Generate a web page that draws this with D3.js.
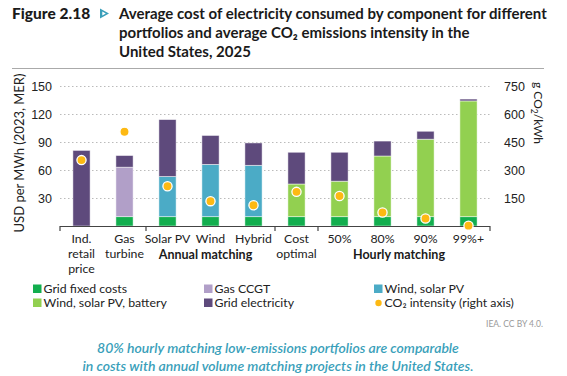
<!DOCTYPE html>
<html>
<head>
<meta charset="utf-8">
<script src="https://cdn.jsdelivr.net/npm/d3@7"></script>
<style>
  body { margin: 0; background: #fff; }
  svg { font-family: Lato, "Open Sans", sans-serif; }
</style>
</head>
<body>
<svg id="chart" width="567" height="376"></svg>
<script>
"use strict";

const categories = ["Ind. retail price", "Gas turbine", "Solar PV", "Wind", "Hybrid",
    "Cost optimal", "50%", "80%", "90%", "99%+"];
const categoryLines = [["Ind.", "retail", "price"], ["Gas", "turbine"], ["Solar PV"], ["Wind"], ["Hybrid"],
    ["Cost", "optimal"], ["50%"], ["80%"], ["90%"], ["99%+"]];

const gridFixed = [0, 10, 10, 10, 10, 10, 10, 10, 10, 10];
const gasCCGT = [0, 53, 0, 0, 0, 0, 0, 0, 0, 0];
const windSolar = [0, 0, 43, 56, 55, 0, 0, 0, 0, 0];
const windSolarBattery = [0, 0, 0, 0, 0, 35, 38, 65, 83, 124];
const gridElectricity = [81, 12.5, 61, 31, 24, 34, 31, 16, 8.5, 2];
const co2Intensity = [353, 505, 213, 133, 111, 183, 161, 72, 40, 2];

const leftTicks = [30, 60, 90, 120, 150];
const rightTicks = [150, 300, 450, 600, 750];

const series = [
    { key: "fixed", name: "Grid fixed costs", color: "#12AE4E", values: gridFixed },
    { key: "ccgt", name: "Gas CCGT", color: "#B19FC8", values: gasCCGT },
    { key: "ws", name: "Wind, solar PV", color: "#4BABC6", values: windSolar },
    { key: "wsb", name: "Wind, solar PV, battery", color: "#92D050", values: windSolarBattery },
    { key: "grid", name: "Grid electricity", color: "#5E4A7C", values: gridElectricity }
];

const svg = d3.select("#chart");

// title
const title = svg.append("g");
title.append("text")
    .attr("x", 12).attr("y", 18.5)
    .style("font-size", "15.5px").style("font-weight", "900").attr("fill", "#1a1a1a")
    .text("Figure 2.18");
title.append("path")
    .attr("d", "M100,8.5 L109,13.5 L100,18.5 Z M102.3,11.5 L102.3,15.5 L105.8,13.5 Z")
    .attr("fill", "#3A9FBA").attr("fill-rule", "evenodd");
const titleLines = ["Average cost of electricity consumed by component for different",
    "portfolios and average CO\u2082 emissions intensity in the", "United States, 2025"];
titleLines.forEach((t, i) => {
    title.append("text")
        .attr("x", 119).attr("y", 18.5 + i * 19.3)
        .style("font-size", "15px").style("font-weight", "700").attr("fill", "#1a1a1a")
        .text(t);
});
svg.append("line")
    .attr("x1", 12).attr("x2", 544).attr("y1", 68.5).attr("y2", 68.5)
    .attr("stroke", "#aaa").attr("stroke-width", 1);

// scales
const xScale = d3.scaleBand().domain(categories).range([60, 490]).paddingInner(0.6).paddingOuter(0.3);
const yScale = d3.scaleLinear().domain([0, 150]).range([226, 86]);
const yRight = d3.scaleLinear().domain([0, 750]).range([226, 86]);

// gridlines
svg.append("g")
    .attr("transform", "translate(60,0)")
    .call(d3.axisLeft(yScale).tickValues(leftTicks).tickSize(-430).tickFormat(""))
    .call(g => g.select(".domain").remove())
    .call(g => g.selectAll("line").attr("stroke", "#bbb").attr("stroke-dasharray", "1.5,2.5"));

// left axis labels
svg.append("g")
    .attr("transform", "translate(52,0)")
    .call(d3.axisLeft(yScale).tickValues(leftTicks).tickSize(0))
    .call(g => g.select(".domain").remove())
    .call(g => g.selectAll("text").attr("fill", "#222").style("font-size", "12.5px").attr("dx", 3));

// right axis labels
svg.append("g")
    .attr("transform", "translate(501,0)")
    .call(d3.axisRight(yRight).tickValues(rightTicks).tickSize(0))
    .call(g => g.select(".domain").remove())
    .call(g => g.selectAll("text").attr("fill", "#222").style("font-size", "12.5px"));

svg.append("text")
    .attr("transform", "translate(24,153) rotate(-90)")
    .attr("text-anchor", "middle")
    .style("font-size", "13px").attr("fill", "#222")
    .text("USD per MWh (2023, MER)");

const rl = svg.append("text")
    .attr("transform", "translate(534,82) rotate(90)")
    .style("font-size", "12px").attr("fill", "#222");
rl.append("tspan").text("g CO");
rl.append("tspan").attr("dy", 3).style("font-size", "8.5px").text("2");
rl.append("tspan").attr("dy", -3).text("/kWh");

// stacked bars
const table = categories.map((c, i) => {
    const row = { category: c };
    series.forEach(s => { row[s.key] = s.values[i]; });
    return row;
});
const stacked = d3.stack().keys(series.map(s => s.key))(table);

svg.append("g").selectAll("g")
    .data(stacked).enter().append("g")
    .attr("fill", (d, i) => series[i].color)
    .selectAll("rect")
    .data(d => d.filter(p => p[1] - p[0] > 0)).enter().append("rect")
    .attr("x", d => xScale(d.data.category))
    .attr("y", d => yScale(d[1]))
    .attr("height", d => yScale(d[0]) - yScale(d[1]))
    .attr("width", xScale.bandwidth())
    .attr("stroke", "#fff").attr("stroke-opacity", 0.6).attr("stroke-width", 0.8);

// x axis
svg.append("line")
    .attr("x1", 60).attr("x2", 490).attr("y1", 226.5).attr("y2", 226.5)
    .attr("stroke", "#444").attr("stroke-width", 1.2);
const groupEdges = [0, 2, 5, 6, 10];
svg.append("g").selectAll("line")
    .data(groupEdges).enter().append("line")
    .attr("x1", d => 60 + d * xScale.step()).attr("x2", d => 60 + d * xScale.step())
    .attr("y1", 226).attr("y2", 231)
    .attr("stroke", "#444").attr("stroke-width", 1.2);

// category labels
const catG = svg.append("g").attr("text-anchor", "middle").style("font-size", "12.3px").attr("fill", "#222");
categories.forEach((c, i) => {
    categoryLines[i].forEach((line, j) => {
        catG.append("text")
            .attr("x", xScale(c) + xScale.bandwidth() / 2)
            .attr("y", 242.5 + j * 15)
            .text(line);
    });
});

const groupLabels = [
    { text: "Annual matching", from: "Solar PV", to: "Hybrid" },
    { text: "Hourly matching", from: "50%", to: "99%+" }
];
svg.append("g").selectAll("text")
    .data(groupLabels).enter().append("text")
    .attr("x", d => (xScale(d.from) + xScale(d.to) + xScale.bandwidth()) / 2 - 5)
    .attr("y", 259)
    .attr("text-anchor", "middle")
    .style("font-size", "12.5px").style("font-weight", "700").attr("fill", "#1a1a1a")
    .text(d => d.text);

// CO2 dots
svg.append("g").selectAll("circle")
    .data(categories).enter().append("circle")
    .attr("cx", d => xScale(d) + xScale.bandwidth() / 2)
    .attr("cy", (d, i) => yRight(co2Intensity[i]))
    .attr("r", 4.6)
    .attr("fill", "#FDB913")
    .attr("stroke", "#fff").attr("stroke-width", 1.3);

// legend
const legendItems = [
    { name: "Grid fixed costs", color: series[0].color, col: 0, row: 0 },
    { name: "Wind, solar PV, battery", color: series[3].color, col: 0, row: 1 },
    { name: "Gas CCGT", color: series[1].color, col: 1, row: 0 },
    { name: "Grid electricity", color: series[4].color, col: 1, row: 1 },
    { name: "Wind, solar PV", color: series[2].color, col: 2, row: 0 },
    { name: "CO\u2082 intensity (right axis)", color: "#FDB913", col: 2, row: 1, dot: true }
];
const legendX = [33, 204, 374];
const legend = svg.append("g").selectAll("g")
    .data(legendItems).enter().append("g")
    .attr("transform", d => `translate(${legendX[d.col]},${289 + d.row * 14})`);
legend.filter(d => !d.dot).append("rect")
    .attr("x", 0).attr("y", -4.5).attr("width", 8.5).attr("height", 8.5)
    .attr("fill", d => d.color);
legend.filter(d => d.dot).append("circle")
    .attr("cx", 4.5).attr("cy", 0).attr("r", 3.2)
    .attr("fill", d => d.color);
legend.append("text")
    .attr("x", 10.5).attr("y", 4.3)
    .style("font-size", "12.3px").attr("fill", "#222")
    .text(d => d.name);

// source
svg.append("text")
    .attr("x", 543).attr("y", 327).attr("text-anchor", "end")
    .style("font-size", "8.5px").attr("fill", "#999")
    .text("IEA. CC BY 4.0.");

// caption
const caption = ["80% hourly matching low-emissions portfolios are comparable",
    "in costs with annual volume matching projects in the United States."];
caption.forEach((t, i) => {
    svg.append("text")
        .attr("x", 278).attr("y", 352.5 + i * 18.5)
        .attr("text-anchor", "middle")
        .style("font-size", "14px").style("font-style", "italic").style("font-weight", "600")
        .attr("fill", "#3A9FBA")
        .text(t);
});
</script>
</body>
</html>
